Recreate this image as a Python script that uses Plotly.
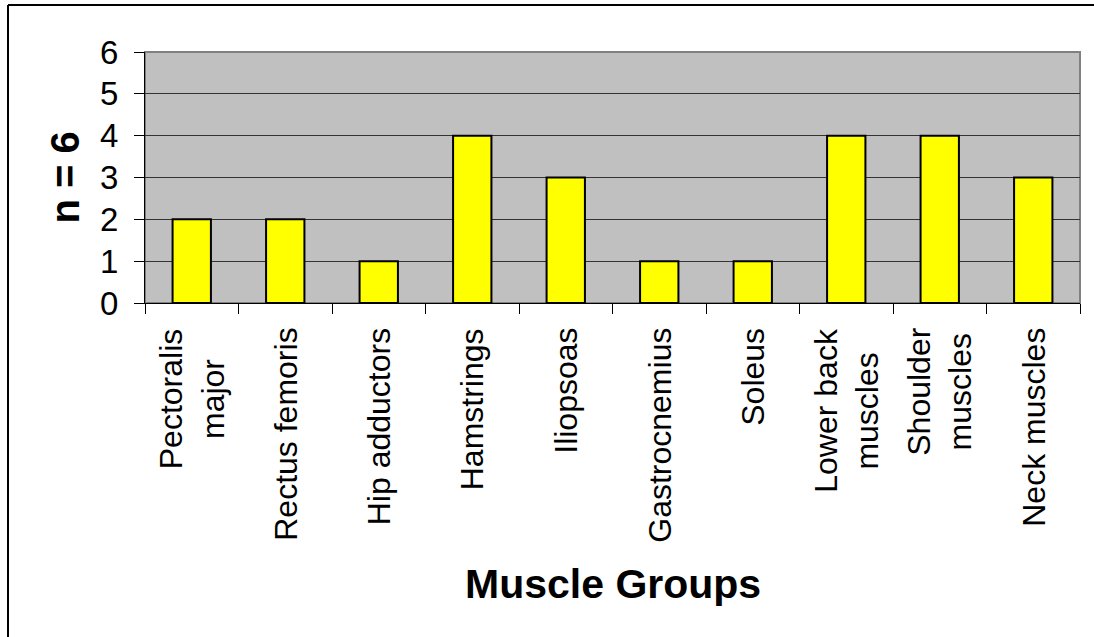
import plotly.graph_objects as go

# Muscle groups reported and the number of respondents (n = 6) per group
muscle_groups = [
    "Pectoralis<br>major", "Rectus femoris", "Hip adductors", "Hamstrings",
    "Iliopsoas", "Gastrocnemius", "Soleus", "Lower back<br>muscles",
    "Shoulder<br>muscles", "Neck muscles",
]
counts = [2, 2, 1, 4, 3, 1, 1, 4, 4, 3]
y_ticks = [0, 1, 2, 3, 4, 5, 6]

W, H = 1094, 637
L, R, T, B = 145, 1080, 52, 303  # plot area edges in pixels

FONT = "Liberation Sans, Arial, sans-serif"

fig = go.Figure(
    go.Bar(
        x=list(range(len(muscle_groups))),
        y=counts,
        marker=dict(color="#FFFF00", line=dict(color="#000000", width=2)),
        width=0.41,
        hoverinfo="skip",
    )
)

# Category labels drawn vertically under each bar, lines centred on each other
annotations = []
for i, name in enumerate(muscle_groups):
    annotations.append(dict(
        x=i, xref="x", y=0, yref="paper",
        text=name, textangle=-90, showarrow=False,
        xanchor="center", yanchor="top", align="center",
        yshift=-23,
        font=dict(family=FONT, size=32, color="#000000"),
    ))

# Axis titles
annotations.append(dict(
    x=0.5, xref="paper", y=(H - 584 - (H - B)) / (B - T), yref="paper",
    text="<b>Muscle Groups</b>", showarrow=False,
    xanchor="center", yanchor="middle",
    font=dict(family=FONT, size=41, color="#000000"),
))
annotations.append(dict(
    x=(64 - L) / (R - L), xref="paper", y=0.5, yref="paper",
    text="<b>n = 6</b>", textangle=-90, showarrow=False,
    xanchor="center", yanchor="middle",
    font=dict(family=FONT, size=40, color="#000000"),
))

def px_x(p):
    return (p - L) / (R - L)

def px_y(p):
    return (B - p) / (B - T)

shapes = [
    # plot-area frame
    dict(type="rect", xref="paper", yref="paper", x0=0, x1=1, y0=0, y1=1,
         line=dict(color="#808080", width=2), layer="below"),
    # outer chart frame (top and left edges)
    dict(type="line", xref="paper", yref="paper",
         x0=px_x(8), x1=px_x(W + 5), y0=px_y(5), y1=px_y(5),
         line=dict(color="#000000", width=2)),
    dict(type="line", xref="paper", yref="paper",
         x0=px_x(8), x1=px_x(8), y0=px_y(5), y1=px_y(H + 5),
         line=dict(color="#000000", width=2)),
]

fig.update_layout(
    width=W, height=H,
    margin=dict(l=L, r=W - R, t=T, b=H - B, pad=0),
    paper_bgcolor="#FFFFFF",
    plot_bgcolor="#C0C0C0",
    showlegend=False,
    bargap=0.59,
    font=dict(family=FONT, color="#000000"),
    annotations=annotations,
    shapes=shapes,
    xaxis=dict(
        type="category",
        tickmode="array",
        tickvals=list(range(len(muscle_groups))),
        ticktext=muscle_groups,
        showticklabels=False,
        tickson="boundaries",
        ticks="outside", ticklen=10, tickwidth=1, tickcolor="#000000",
        showline=True, linecolor="#000000", linewidth=1,
        showgrid=False, zeroline=False,
        range=[-0.5, len(muscle_groups) - 0.5],
    ),
    yaxis=dict(
        range=[0, 6],
        tickmode="array", tickvals=y_ticks,
        ticks="outside", ticklen=10, tickwidth=1, tickcolor="#000000",
        ticklabelstandoff=9,
        tickfont=dict(family=FONT, size=33, color="#000000"),
        showline=True, linecolor="#000000", linewidth=1,
        showgrid=True, gridcolor="#333333", gridwidth=1,
        zeroline=False,
    ),
)

fig.write_html("out.html")
